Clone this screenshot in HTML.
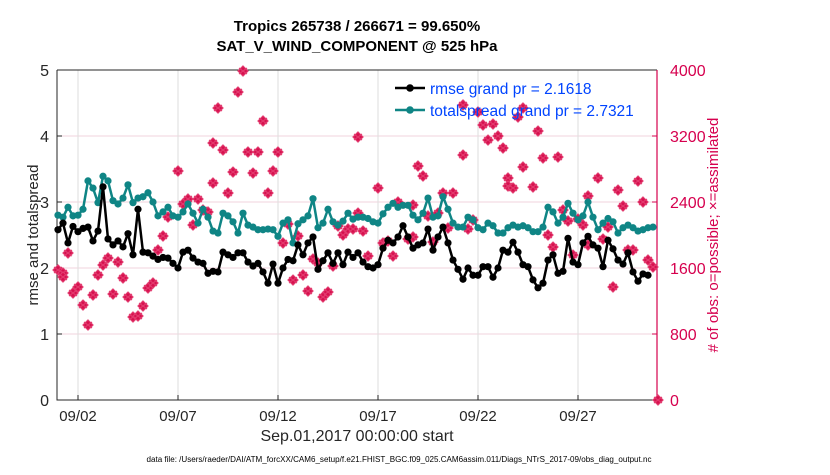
<!DOCTYPE html>
<html><head><meta charset="utf-8"><style>
body{margin:0;background:#fff;}
svg text{font-family:"Liberation Sans",Arial,sans-serif;}
</style></head><body>
<svg id="chart" width="830" height="470" viewBox="0 0 830 470" xmlns="http://www.w3.org/2000/svg">
<rect width="830" height="470" fill="#fff"/>
<g id="grid"></g>
<g id="axes"></g>
<g id="series"></g>
<text x="357" y="31" text-anchor="middle" font-size="15" font-weight="bold" fill="#000">Tropics 265738 / 266671 = 99.650%</text>
<text x="357" y="51" text-anchor="middle" font-size="15" font-weight="bold" fill="#000">SAT_V_WIND_COMPONENT @ 525 hPa</text>
<text transform="translate(38,235) rotate(-90)" text-anchor="middle" font-size="15" fill="#262626">rmse and totalspread</text>
<text transform="translate(718,235) rotate(-90)" text-anchor="middle" font-size="15" fill="#d6004e"># of obs: o=possible; ×=assimilated</text>
<text x="357" y="441" text-anchor="middle" font-size="16" fill="#262626">Sep.01,2017 00:00:00 start</text>
<text x="399" y="462" text-anchor="middle" font-size="8" textLength="505" lengthAdjust="spacingAndGlyphs" fill="#000">data file: /Users/raeder/DAI/ATM_forcXX/CAM6_setup/f.e21.FHIST_BGC.f09_025.CAM6assim.011/Diags_NTrS_2017-09/obs_diag_output.nc</text>
<g>
<line x1="395" y1="88" x2="425" y2="88" stroke="#000" stroke-width="2.5"/>
<circle cx="410" cy="88" r="3.8" fill="#000"/>
<text x="430" y="94" font-size="15.5" fill="#0044ff">rmse grand pr = 2.1618</text>
<line x1="395" y1="110" x2="425" y2="110" stroke="#0f8585" stroke-width="2.5"/>
<circle cx="410" cy="110" r="3.8" fill="#0f8585"/>
<text x="430" y="116" font-size="15.5" fill="#0044ff">totalspread grand pr = 2.7321</text>
</g>
</svg>
<script>
const rmse=[2.58,2.68,2.38,2.63,2.55,2.6,2.62,2.41,2.56,3.23,2.44,2.35,2.41,2.32,2.52,2.2,2.89,2.24,2.23,2.18,2.13,2.16,2.15,2.07,2.0,2.24,2.27,2.15,2.09,2.07,1.92,1.95,1.94,2.24,2.2,2.16,2.23,2.23,2.09,2.03,2.07,1.94,1.77,2.06,1.77,2.0,2.13,2.11,2.35,2.2,2.38,2.47,1.98,2.11,2.23,2.07,2.23,2.05,2.24,2.16,2.23,2.09,2.02,2.0,2.05,2.3,2.42,2.38,2.47,2.64,2.47,2.3,2.35,2.38,2.59,2.27,2.47,2.62,2.38,2.12,1.98,1.83,2.0,1.89,1.89,2.02,2.02,1.86,2.0,2.27,2.24,2.39,2.24,2.05,2.02,1.82,1.7,1.77,2.12,2.2,1.92,1.95,2.45,2.09,2.05,2.38,2.48,2.35,2.3,2.02,2.42,2.29,2.12,2.06,2.23,1.94,1.8,1.91,1.89];
const spread=[2.8,2.77,2.92,2.79,2.8,2.89,3.32,3.21,2.99,3.39,3.32,3.02,2.97,3.06,3.26,2.99,3.06,3.08,3.14,3.0,2.79,2.85,2.92,2.79,2.77,2.85,2.97,2.83,2.68,2.89,2.77,2.56,2.53,2.83,2.79,2.7,2.53,2.83,2.65,2.62,2.58,2.58,2.59,2.58,2.48,2.68,2.73,2.38,2.67,2.73,2.79,3.05,2.61,2.68,2.89,2.7,2.65,2.71,2.83,2.74,2.77,2.77,2.75,2.7,2.68,2.82,2.92,2.98,2.92,2.95,2.95,2.8,2.73,2.83,3.06,2.77,2.79,3.08,2.89,2.68,2.62,2.62,2.77,2.73,2.61,2.58,2.68,2.64,2.53,2.53,2.61,2.65,2.62,2.64,2.61,2.55,2.55,2.62,2.92,2.85,2.68,2.77,2.98,2.83,2.73,2.79,3.0,2.77,2.58,2.68,2.75,2.7,2.53,2.61,2.65,2.61,2.56,2.58,2.61,2.62];
const obsIdx=[0,1,1,2,3,4,5,6,7,8,9,10,11,12,13,14,15,16,17,18,19,20,21,22,24,25,26,27,28,29,30,31,31,32,33,34,35,36,37,38,39,40,41,42,43,44,45,46,47,48,49,50,51,52,53,54,55,56,57,58,59,60,60,61,62,64,65,66,67,68,70,71,71,72,73,74,75,76,77,78,79,81,81,82,83,84,85,86,87,88,89,90,90,91,92,93,93,95,96,97,98,99,100,101,102,103,104,105,106,106,108,109,110,111,112,113,114,115,116,117,118,119,120];
const obsCount=[1576,1539,1491,1782,1297,1370,1151,909,1273,1515,1636,1721,1285,1673,1479,1248,1006,1018,1139,1357,1418,1818,1988,2218,2776,2376,2436,2121,2436,2303,2279,2630,3115,3539,3030,2509,2763,3733,3988,3006,2751,3006,3382,2509,2776,3006,1903,2133,1454,1988,1515,1321,1709,1660,1248,1309,1624,2109,2000,2073,2073,3188,2266,2048,1745,2570,1903,1927,1745,2400,1951,1976,2363,2836,2715,2230,1915,2266,2509,2085,2509,3576,2969,2073,2182,3491,3333,3151,3345,3200,3054,2691,2594,2570,3430,3539,2824,2582,3260,2933,2000,1854,2945,2303,2170,1757,2194,2121,1879,2473,2691,1951,2097,1370,2545,2351,1818,1818,2654,2400,1697,1612,0];
const xTickDays=[1,6,11,16,21,26];
const xTickLabels=["09/02","09/07","09/12","09/17","09/22","09/27"];
const yTicks=[0,1,2,3,4,5];
const y2Ticks=[0,800,1600,2400,3200,4000];

const NS="http://www.w3.org/2000/svg";
const L=57,R=657,T=70,B=400;
const x=d=>58+20*d;
const tDay=i=>i/4;
const y=v=>B-(v/5)*(B-T);
const y2=v=>B-(v/4000)*(B-T);
function mk(tag,attrs,parent){const e=document.createElementNS(NS,tag);for(const k in attrs)e.setAttribute(k,attrs[k]);parent.appendChild(e);return e;}
const grid=document.getElementById('grid'),axes=document.getElementById('axes'),ser=document.getElementById('series');

yTicks.forEach(v=>{
  if(v>0&&v<5){const g=mk('line',{x1:L,x2:R,y1:y(v),y2:y(v),stroke:'#f2d3dd','stroke-width':1},grid);
  
  }
  const t=mk('line',{x1:L,x2:L+5,y1:y(v),y2:y(v),stroke:'#262626'},axes);
  
  
  const lb=mk('text',{x:L-8,y:y(v)+6,'text-anchor':'end','font-size':16,fill:'#262626'},axes);lb.textContent=v;
  
  
});
y2Ticks.forEach(v=>{
  const t=mk('line',{x1:R-5,x2:R,y1:y2(v),y2:y2(v),stroke:'#d6004e'},axes);
  
  
  const lb=mk('text',{x:R+13,y:y2(v)+6,'font-size':16,fill:'#d6004e'},axes);lb.textContent=v;
  
  
});
xTickDays.forEach((d,i)=>{
  const g=mk('line',{x1:x(d),x2:x(d),y1:T,y2:B,stroke:'#dedede','stroke-width':1},grid);
  
  
  const t=mk('line',{x1:x(d),x2:x(d),y1:B,y2:B-5,stroke:'#262626'},axes);
  
  
  const lb=mk('text',{x:x(d),y:B+21,'text-anchor':'middle','font-size':15,fill:'#262626'},axes);lb.textContent=xTickLabels[i];
  
  
});
const fr=mk('path',{d:`M${L},${T}H${R}M${L},${T}V${B}H${R}`,fill:'none',stroke:'#262626','stroke-width':1},axes);


const ra=mk('line',{x1:R,x2:R,y1:T,y2:B,stroke:'#d6004e','stroke-width':1.2},axes);



function drawLine(vals,color,name){
  const g=mk('g',{},ser);
  
  
  const p=mk('polyline',{points:vals.map((v,i)=>x(tDay(i))+','+y(v)).join(' '),fill:'none',stroke:color,'stroke-width':2.5,'stroke-linejoin':'round'},g);
  
  
  vals.forEach((v,i)=>{const c=mk('circle',{cx:x(tDay(i)),cy:y(v),r:3.6,fill:color},g);
    
    });
}
const og=mk('g',{},ser);


obsIdx.forEach((ix,k)=>{
  const cx=x(tDay(ix)),cy=y2(obsCount[k]);
  const m=mk('path',{d:`M${cx},${cy-5}L${cx+5},${cy}L${cx},${cy+5}L${cx-5},${cy}Z M${cx-4},${cy-3}L${cx+4},${cy+3}M${cx-4},${cy+3}L${cx+4},${cy-3}`,fill:'#d6104e',stroke:'#e23a6e','stroke-width':1.2},og);
  
  
});
drawLine(spread,'#0f8585','totalspread-series');
drawLine(rmse,'#000','rmse-series');
</script>
</body></html>
